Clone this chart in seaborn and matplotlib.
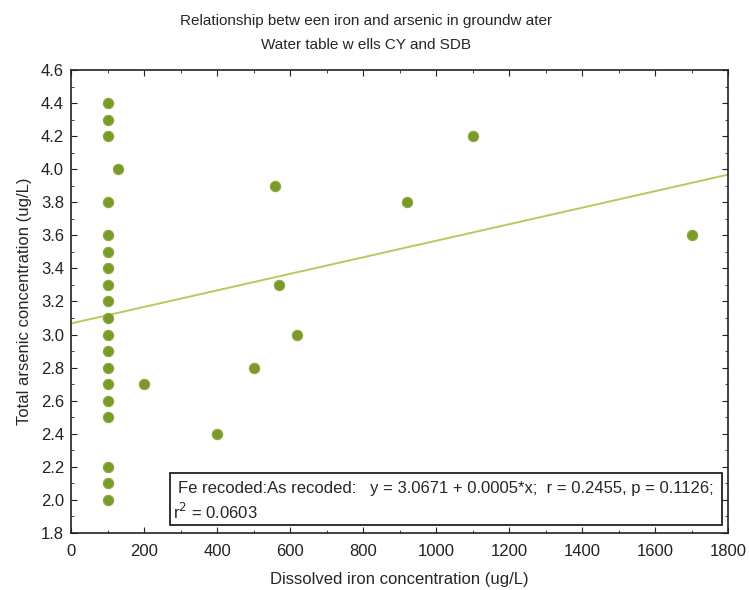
import numpy as np
import pandas as pd
import matplotlib
matplotlib.use("Agg")
import matplotlib.pyplot as plt
from matplotlib.patches import Rectangle
from matplotlib.ticker import MultipleLocator
import seaborn as sns

# Dissolved iron (ug/L) and total arsenic (ug/L) for water table wells
iron = [100] * 19 + [130, 200, 400, 500, 560, 570, 620, 920, 1100, 1700]
arsenic = [4.4, 4.3, 4.2, 3.8, 3.6, 3.5, 3.4, 3.3, 3.2, 3.1, 3.0, 2.9, 2.8,
           2.7, 2.6, 2.5, 2.2, 2.1, 2.0,
           4.0, 2.7, 2.4, 2.8, 3.9, 3.3, 3.0, 3.8, 4.2, 3.6]

# Fitted regression reported in the annotation
intercept = 3.0671
slope = 0.0005
r_value = 0.2455
p_value = 0.1126
r_squared = 0.0603

df = pd.DataFrame({"iron": iron, "arsenic": arsenic})

sns.set_theme(style="white")
plt.rcParams["font.family"] = ["Liberation Sans", "DejaVu Sans"]

fig = plt.figure(figsize=(7.49, 5.90), dpi=100)
ax = fig.add_axes([0.0948, 0.0966, 0.8772, 0.7848])

line_x = np.array([0, 1800])
fit = pd.DataFrame({"x": line_x, "y": intercept + slope * line_x})
sns.lineplot(data=fit, x="x", y="y", ax=ax, color="#b9c95e", linewidth=1.4)

sns.scatterplot(data=df, x="iron", y="arsenic", ax=ax, s=55,
                color="#7b9a2c", edgecolor="#8fa93a", linewidth=0.8, zorder=3)

ax.set_xlim(0, 1800)
ax.set_ylim(1.8, 4.6)
ax.xaxis.set_major_locator(MultipleLocator(200))
ax.xaxis.set_minor_locator(MultipleLocator(100))
ax.yaxis.set_minor_locator(MultipleLocator(0.1))
yt = np.round(np.arange(1.8, 4.61, 0.2), 1)
ax.set_yticks(yt)
ax.set_yticklabels([f"{v:.1f}" for v in yt])
ax.tick_params(which="both", direction="in", top=True, right=True,
               bottom=True, left=True, labelsize=12, colors="#222222")
ax.tick_params(axis="x", which="major", pad=8)
ax.tick_params(axis="y", which="major", pad=5)
ax.tick_params(which="major", length=4, width=0.8)
ax.tick_params(which="minor", length=2, width=0.6)
for s in ax.spines.values():
    s.set_color("#222222")
    s.set_linewidth(1.2)

ax.set_xlabel("Dissolved iron concentration (ug/L)", fontsize=12, labelpad=9)
ax.set_ylabel("Total arsenic concentration (ug/L)", fontsize=12, labelpad=6)

fig.text(0.489, 0.965, "Relationship betw een iron and arsenic in groundw ater",
         ha="center", va="center", fontsize=11)
fig.text(0.489, 0.924, "Water table w ells CY and SDB",
         ha="center", va="center", fontsize=11)

# Regression summary box
ax.add_patch(Rectangle((0.151, 0.017), 0.840, 0.113, transform=ax.transAxes,
                       facecolor="white", edgecolor="#222222", linewidth=1.3,
                       zorder=4))
ax.text(0.163, 0.097,
        f"Fe recoded:As recoded:   y = {intercept:.4f} + {slope:.4f}*x;  "
        f"r = {r_value:.4f}, p = {p_value:.4f};",
        transform=ax.transAxes, ha="left", va="center", fontsize=12, zorder=5)
ax.text(0.155, 0.045, f"r$^2$ = {r_squared:.4f}",
        transform=ax.transAxes, ha="left", va="center", fontsize=12, zorder=5)

fig.savefig("out.png", dpi=100)
